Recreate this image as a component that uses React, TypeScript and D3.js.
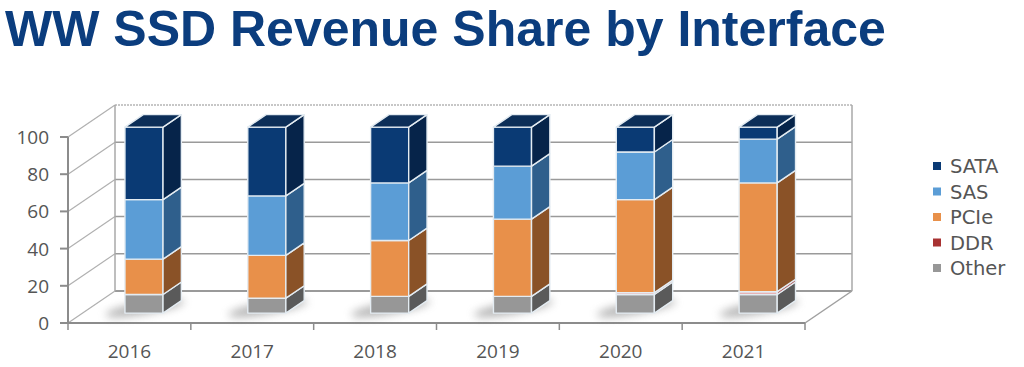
import React from "react";
import * as d3 from "d3";

const years = ["2016", "2017", "2018", "2019", "2020", "2021"];
const seriesNames = ["Other", "DDR", "PCIe", "SAS", "SATA"];
const other = [10, 8, 9, 9, 10, 10];
const ddr = [0, 0, 0, 0, 1, 1.5];
const pcie = [19, 23, 30, 41.5, 50, 58.5];
const sas = [32, 32, 31, 28.5, 25.6, 23.5];
const sata = [39, 37, 30, 21, 13.4, 6.5];
const yTicks = [0, 20, 40, 60, 80, 100];
const legendOrder = ["SATA", "SAS", "PCIe", "DDR", "Other"];

const colors: Record<string, { front: string; side: string; top: string; legend: string }> = {
  SATA: { front: "#0a3a74", side: "#06244a", top: "#0c2e58", legend: "#0a3a74" },
  SAS: { front: "#5b9dd6", side: "#2f5f8c", top: "#4b86bb", legend: "#5b9dd6" },
  PCIe: { front: "#e8904a", side: "#8a5227", top: "#c87a3c", legend: "#e8904a" },
  DDR: { front: "#e9a0a0", side: "#b06060", top: "#d08080", legend: "#a83232" },
  Other: { front: "#979797", side: "#5a5a5a", top: "#7a7a7a", legend: "#979797" },
};

export default function App() {
  const W = 1024, H = 367;
  const x0 = 68, x1 = 805;
  const DX = 47, DY = -32;
  const f0 = 0.31, f1 = 0.7;
  const x = d3.scaleBand<string>().domain(years).range([x0, x1]).padding(0);
  const y = d3.scaleLinear().domain([0, 100]).range([323, 137]);
  const barW = x.bandwidth() * 0.31;

  const table = years.map((yr, i) => ({
    year: yr, Other: other[i], DDR: ddr[i], PCIe: pcie[i], SAS: sas[i], SATA: sata[i],
  }));
  const stacked = d3.stack<any>().keys(seriesNames)(table);

  const P = (xf: number, v: number, f: number): [number, number] => [xf + DX * f, y(v) + DY * f];
  const pts = (arr: [number, number][]) => arr.map((p) => p.join(",")).join(" ");

  const frameColor = "#a0a0a0";

  return (
    <svg width={W} height={H} style={{ display: "block", position: "absolute", left: 0, top: 0 }}>
      <defs>
        <filter id="blur" x="-50%" y="-200%" width="200%" height="500%">
          <feGaussianBlur stdDeviation="4" />
        </filter>
      </defs>
      <rect width={W} height={H} fill="#fff" />
      <text x={5} y={46} fontFamily="'Liberation Sans', Arial, sans-serif" fontWeight="bold" fontSize={50} fill="#0b3d7e">
        WW SSD Revenue Share by Interface
      </text>

      {/* back wall */}
      {yTicks.map((t) => {
        const a = P(x0, t, 1), b = P(x1, t, 1);
        return (
          <line key={"g" + t} x1={a[0]} y1={a[1]} x2={b[0]} y2={b[1]} stroke={t === 100 ? "#b5b5b5" : "#9a9a9a"}
            strokeWidth={t === 0 ? 1.8 : 1.5} strokeDasharray={t === 100 ? "2,1" : undefined} />
        );
      })}
      {/* left wall diagonals */}
      {yTicks.map((t) => {
        const a = P(x0, t, 0), b = P(x0, t, 1);
        return <line key={"d" + t} x1={a[0]} y1={a[1]} x2={b[0]} y2={b[1]} stroke="#b0b0b0" strokeWidth={1.2} />;
      })}
      <line x1={P(x0, 0, 1)[0]} y1={P(x0, 0, 1)[1]} x2={P(x0, 100, 1)[0]} y2={P(x0, 100, 1)[1]} stroke="#a8a8a8" strokeWidth={1.5} />
      <line x1={P(x1, 0, 1)[0]} y1={P(x1, 0, 1)[1]} x2={P(x1, 100, 1)[0]} y2={P(x1, 100, 1)[1]} stroke="#a8a8a8" strokeWidth={1.5} />
      {/* floor */}
      <line x1={P(x1, 0, 0)[0]} y1={P(x1, 0, 0)[1]} x2={P(x1, 0, 1)[0]} y2={P(x1, 0, 1)[1]} stroke={frameColor} strokeWidth={1.5} />
      <line x1={x0} y1={y(0)} x2={x1} y2={y(0)} stroke="#8c8c8c" strokeWidth={2} />
      {/* y axis */}
      <line x1={x0} y1={y(0)} x2={x0} y2={y(100)} stroke="#8c8c8c" strokeWidth={2} />
      {yTicks.map((t) => (
        <g key={"yt" + t}>
          <line x1={x0 - 8} y1={y(t)} x2={x0} y2={y(t)} stroke="#8c8c8c" strokeWidth={2} />
          <text x={49} y={y(t) + 7} textAnchor="end" fontFamily="'Open Sans', sans-serif" fontSize={19} fill="#555">
            {t}
          </text>
        </g>
      ))}
      {/* x ticks */}
      {[...years.map((yr) => x(yr)!), x1].map((tx, i) => (
        <line key={"xt" + i} x1={tx} y1={y(0)} x2={tx} y2={y(0) + 7} stroke="#8c8c8c" strokeWidth={1.5} />
      ))}
      {years.map((yr) => (
        <text key={"xl" + yr} x={x(yr)! + x.bandwidth() / 2} y={358} textAnchor="middle" fontFamily="'Open Sans', sans-serif" fontSize={19} fill="#555">
          {yr}
        </text>
      ))}

      {/* shadows */}
      {years.map((yr) => {
        const bx = x(yr)! + x.bandwidth() / 2 - barW / 2;
        const c = P(bx, 0, f0);
        return (
          <ellipse key={"sh" + yr} cx={c[0] + 20} cy={c[1] - 5} rx={40} ry={6} fill="#777" opacity={0.55}
            filter="url(#blur)" transform={`rotate(-10 ${c[0] + 20} ${c[1] - 5})`} />
        );
      })}

      {/* bars */}
      {years.map((yr, i) => {
        const bx = x(yr)! + x.bandwidth() / 2 - barW / 2;
        const segs = stacked.filter((s) => s[i][1] - s[i][0] > 0);
        const top = segs[segs.length - 1];
        return (
          <g key={"b" + yr}>
            {segs.map((s) => {
              const [lo, hi] = s[i];
              const c = colors[s.key];
              const front: [number, number][] = [P(bx, lo, f0), P(bx + barW, lo, f0), P(bx + barW, hi, f0), P(bx, hi, f0)];
              const side: [number, number][] = [P(bx + barW, lo, f0), P(bx + barW, lo, f1), P(bx + barW, hi, f1), P(bx + barW, hi, f0)];
              return (
                <g key={s.key}>
                  <polygon points={pts(front)} fill={c.front} stroke="#e4ecf2" strokeWidth={1.4} strokeLinejoin="round" />
                  <polygon points={pts(side)} fill={c.side} stroke="#e4ecf2" strokeWidth={1.4} strokeLinejoin="round" />
                </g>
              );
            })}
            {(() => {
              const hi = top[i][1];
              const c = colors[top.key];
              const tp: [number, number][] = [P(bx, hi, f0), P(bx + barW, hi, f0), P(bx + barW, hi, f1), P(bx, hi, f1)];
              return <polygon points={pts(tp)} fill={c.top} stroke="#e4ecf2" strokeWidth={1.4} strokeLinejoin="round" />;
            })()}
          </g>
        );
      })}

      {/* legend */}
      {legendOrder.map((name, i) => (
        <g key={"lg" + name} transform={`translate(933, ${166 + i * 25.5})`}>
          <rect x={0} y={-4} width={8} height={8} fill={colors[name].legend} />
          <text x={17} y={7} fontFamily="'DejaVu Sans', sans-serif" fontSize={19.5} fill="#555">
            {name}
          </text>
        </g>
      ))}
    </svg>
  );
}
